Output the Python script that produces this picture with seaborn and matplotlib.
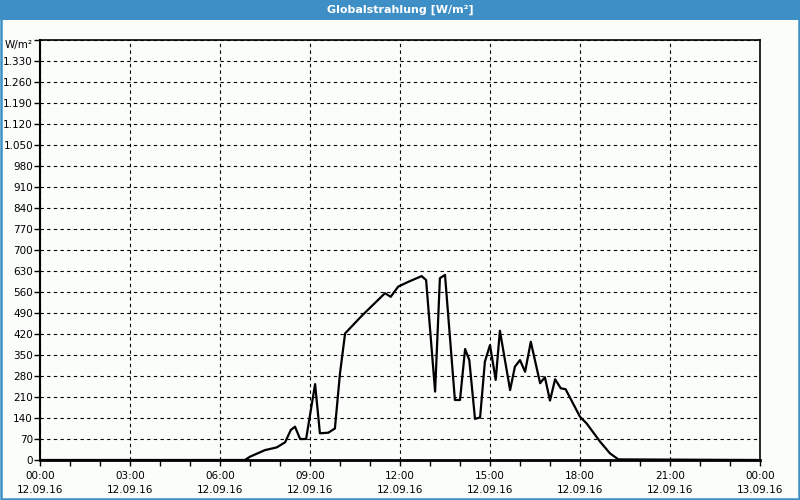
import matplotlib
matplotlib.use("Agg")
import matplotlib.pyplot as plt
import seaborn as sns
import pandas as pd
from matplotlib.patches import Rectangle

# Data: hour of day (12.09.16) and global radiation in W/m²
hours = [0.0, 6.83, 7.0, 7.5, 7.89, 8.17, 8.36, 8.5, 8.67, 8.87, 9.17, 9.33,
         9.61, 9.83, 10.0, 10.17, 10.72, 11.5, 11.69, 11.94, 12.28, 12.72,
         12.87, 13.17, 13.33, 13.5, 13.83, 14.0, 14.17, 14.31, 14.5, 14.67,
         14.83, 15.0, 15.19, 15.33, 15.67, 15.83, 16.0, 16.17, 16.36, 16.67,
         16.83, 17.0, 17.17, 17.36, 17.52, 18.0, 18.22, 18.67, 19.0, 19.28,
         23.93]
values = [0, 0, 11, 33, 42, 59, 100, 111, 70, 70, 253, 89,
          91, 105, 289, 422, 480, 556, 544, 578, 594, 613,
          600, 228, 606, 617, 200, 200, 370, 333, 137, 142,
          328, 383, 267, 431, 233, 311, 333, 294, 394, 256,
          276, 198, 269, 239, 236, 144, 122, 61, 22, 2,
          0]

x_tick_labels = ["00:00\n12.09.16", "03:00\n12.09.16", "06:00\n12.09.16",
                 "09:00\n12.09.16", "12:00\n12.09.16", "15:00\n12.09.16",
                 "18:00\n12.09.16", "21:00\n12.09.16", "00:00\n13.09.16"]
y_tick_labels = ["0", "70", "140", "210", "280", "350", "420", "490", "560",
                 "630", "700", "770", "840", "910", "980", "1.050", "1.120",
                 "1.190", "1.260", "1.330", "W/m²"]
title = "Globalstrahlung [W/m²]"

df = pd.DataFrame({"h": hours, "v": values})

sns.set_theme(style="white")
plt.rcParams["font.family"] = ["DejaVu Sans"]

bg = "#fafdfa"
blue = "#3d8fc6"
fig = plt.figure(figsize=(8, 5), dpi=100, facecolor=bg)
ax = fig.add_axes([0.05, 0.08, 0.90, 0.84])
ax.set_facecolor(bg)

sns.lineplot(data=df, x="h", y="v", ax=ax, color="black", linewidth=1.6)

ax.set_xlim(0, 24)
ax.set_ylim(0, 1400)
ax.set_xticks(range(0, 25, 3))
ax.set_xticklabels(x_tick_labels, fontsize=7.5, linespacing=1.45, color="black")
ax.set_xticks(range(0, 25, 1), minor=True)
ax.set_yticks(range(0, 1401, 70))
ax.set_yticklabels(y_tick_labels, fontsize=7.5, color="black")
ax.set_xlabel("")
ax.set_ylabel("")

ax.grid(True, which="major", color="black", linestyle=(0, (3, 3)), linewidth=0.8)
ax.tick_params(axis="x", which="major", direction="out", length=4, width=1,
               color="black", pad=4, bottom=True)
ax.tick_params(axis="y", which="major", direction="out", length=4, width=1,
               color="black", pad=1, left=True)
ax.tick_params(axis="x", which="minor", direction="out", length=4, width=1,
               color="black", bottom=True)
for s in ax.spines.values():
    s.set_color("black")
    s.set_linewidth(1.2)
ax.spines["bottom"].set_linewidth(2)
ax.spines["left"].set_linewidth(1.5)

# top label sits slightly lower, like the reference
ax.get_yticklabels()[-1].set_va("top")

# title bar and border
fig.patches.append(Rectangle((0, 0.96), 1, 0.04, transform=fig.transFigure,
                             facecolor=blue, edgecolor="none", zorder=0))
fig.patches.append(Rectangle((0.0015, 0.002), 0.997, 0.996, transform=fig.transFigure,
                             facecolor="none", edgecolor=blue, linewidth=1.8, zorder=5))
fig.text(0.5, 0.98, title, color="white", fontsize=8, fontweight="bold",
         ha="center", va="center")

fig.savefig("out.png", dpi=100, facecolor=bg)
